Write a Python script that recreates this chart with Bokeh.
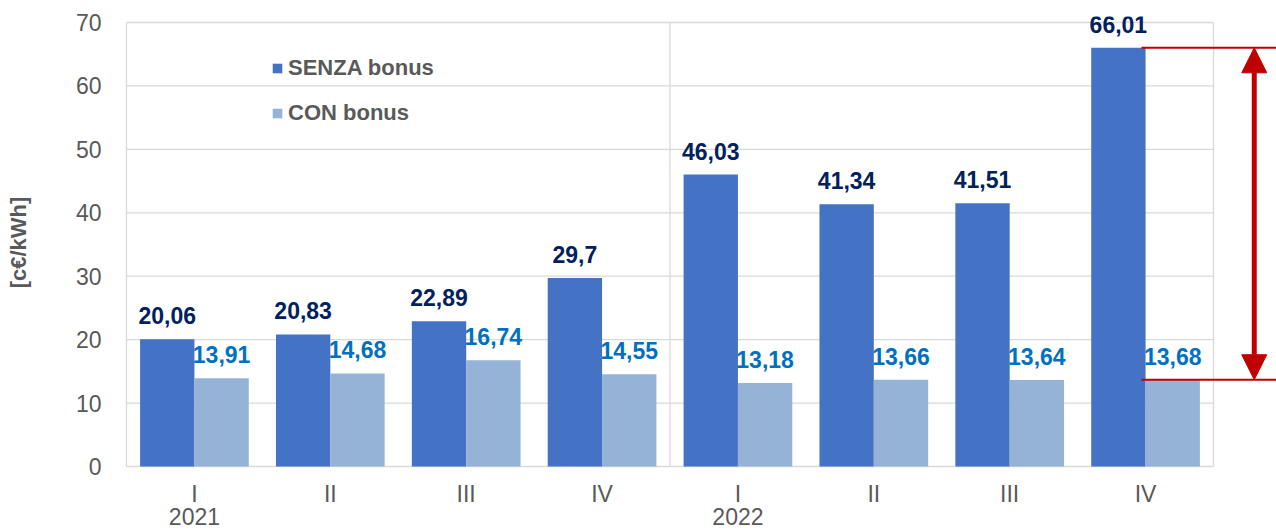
from bokeh.plotting import figure
from bokeh.models import (ColumnDataSource, FixedTicker, LabelSet, Legend,
                          LegendItem, Arrow, NormalHead, Range1d, LinearAxis)
from bokeh.core.properties import value
from bokeh.embed import file_html
from bokeh.resources import INLINE

# ---------------- data ----------------
quarters = ["I", "II", "III", "IV", "I", "II", "III", "IV"]
years = ["2021", "2022"]
senza = [20.06, 20.83, 22.89, 29.7, 46.03, 41.34, 41.51, 66.01]
con = [13.91, 14.68, 16.74, 14.55, 13.18, 13.66, 13.64, 13.68]
series_names = ["SENZA bonus", "CON bonus"]
y_ticks = [0, 10, 20, 30, 40, 50, 60, 70]
y_title = "[c€/kWh]"

# ---------------- style ----------------
FONT = "Liberation Sans"
C_SENZA = "#4472C4"
C_CON = "#95B3D7"
C_SENZA_LBL = "#002060"
C_CON_LBL = "#0070C0"
C_TEXT = "#595959"
C_GRID = "#D9D9D9"
RED = "#C00000"

n = len(quarters)
centers = [i + 0.5 for i in range(n)]
ymax = y_ticks[-1]
per_year = n // len(years)

# pixel geometry (page coordinates)
plot_left, plot_right, plot_top, plot_bottom = 126, 1213, 22, 466
pad, pad_bottom = 6, 2
fig_w, fig_h = 1276, 530
px_x = (plot_right - plot_left) / n
px_y = (plot_bottom - plot_top) / ymax
frame_left = plot_left - pad
frame_top = plot_top - pad
frame_bottom = plot_bottom + pad_bottom
frame_right = fig_w

x_start = -pad / px_x
x_end = (frame_right - plot_left) / px_x
y_start = -pad_bottom / px_y
y_end = ymax + pad / px_y

p = figure(width=fig_w, height=fig_h, output_backend="svg", toolbar_location=None,
           x_range=Range1d(x_start, x_end), y_range=Range1d(y_start, y_end),
           min_border_left=frame_left, min_border_right=0,
           min_border_top=frame_top,
           min_border_bottom=fig_h - frame_bottom)
p.outline_line_color = None
p.xgrid.visible = False
p.ygrid.visible = False
p.background_fill_color = "white"
p.border_fill_color = "white"

# grid / box
p.segment(x0=[0] * len(y_ticks), x1=[n] * len(y_ticks), y0=y_ticks, y1=y_ticks,
          line_color=C_GRID, line_width=1.3)
p.segment(x0=[0, n / 2, n], x1=[0, n / 2, n], y0=[0] * 3, y1=[ymax] * 3,
          line_color=C_GRID, line_width=1.3)

bw = 0.4
r1 = p.vbar(x=[c - bw / 2 for c in centers], width=bw, top=senza, bottom=0,
            fill_color=C_SENZA, line_color=None)
r2 = p.vbar(x=[c + bw / 2 for c in centers], width=bw, top=con, bottom=0,
            fill_color=C_CON, line_color=None)

def fmt(v):
    return ("%g" % v).replace(".", ",")

src1 = ColumnDataSource(dict(x=[c - bw / 2 for c in centers], y=senza,
                             t=[fmt(v) for v in senza]))
src2 = ColumnDataSource(dict(x=[c + bw / 2 for c in centers], y=con,
                             t=[fmt(v) for v in con]))
for src, col in ((src1, C_SENZA_LBL), (src2, C_CON_LBL)):
    p.add_layout(LabelSet(x="x", y="y", text="t", source=src, y_offset=15,
                          text_align="center", text_baseline="alphabetic",
                          text_font=value(FONT), text_font_size=value("23px"),
                          text_font_style=value("bold"), text_color=value(col)))

# red difference marker
line_x0 = n - 0.53
p.segment(x0=[line_x0, line_x0], x1=[x_end, x_end], y0=[senza[-1], con[-1]],
          y1=[senza[-1], con[-1]], line_color=RED, line_width=2)
arrow_x = n + 0.30
p.add_layout(Arrow(start=NormalHead(size=25, fill_color=RED, line_color=RED),
                   end=NormalHead(size=25, fill_color=RED, line_color=RED),
                   x_start=arrow_x, y_start=con[-1], x_end=arrow_x, y_end=senza[-1],
                   line_color=RED, line_width=5))

# axes
year_ticks = [centers[i * per_year] for i in range(len(years))]
year_axis = LinearAxis(ticker=FixedTicker(ticks=year_ticks),
                       major_label_overrides={t: y for t, y in zip(year_ticks, years)})
p.add_layout(year_axis, "below")

p.xaxis[0].ticker = FixedTicker(ticks=centers)
p.xaxis[0].major_label_overrides = {c: q for c, q in zip(centers, quarters)}
p.yaxis.ticker = FixedTicker(ticks=y_ticks)
for ax in (p.xaxis[0], p.yaxis[0], year_axis):
    ax.axis_line_color = None
    ax.major_tick_line_color = None
    ax.minor_tick_line_color = None
    ax.major_label_text_font = FONT
    ax.major_label_text_font_size = "23px"
    ax.major_label_text_color = C_TEXT
p.xaxis[0].major_label_standoff = 6
year_axis.major_label_standoff = -8
p.yaxis.major_label_standoff = 13
p.yaxis.axis_label = y_title
p.yaxis.axis_label_text_font = FONT
p.yaxis.axis_label_text_font_size = "22px"
p.yaxis.axis_label_text_font_style = "bold"
p.yaxis.axis_label_text_color = C_TEXT
p.yaxis.axis_label_standoff = 42

legend = Legend(items=[LegendItem(label=series_names[0], renderers=[r1]),
                       LegendItem(label=series_names[1], renderers=[r2])],
                location=(271 - frame_left, frame_bottom - 126),
                glyph_width=12, glyph_height=12, label_standoff=5, spacing=19,
                padding=0, margin=0, border_line_color=None,
                background_fill_alpha=0,
                label_text_font=FONT, label_text_font_size="22px",
                label_text_font_style="bold", label_text_color=C_TEXT)
p.add_layout(legend)

open("out.html", "w").write(file_html(p, INLINE))
